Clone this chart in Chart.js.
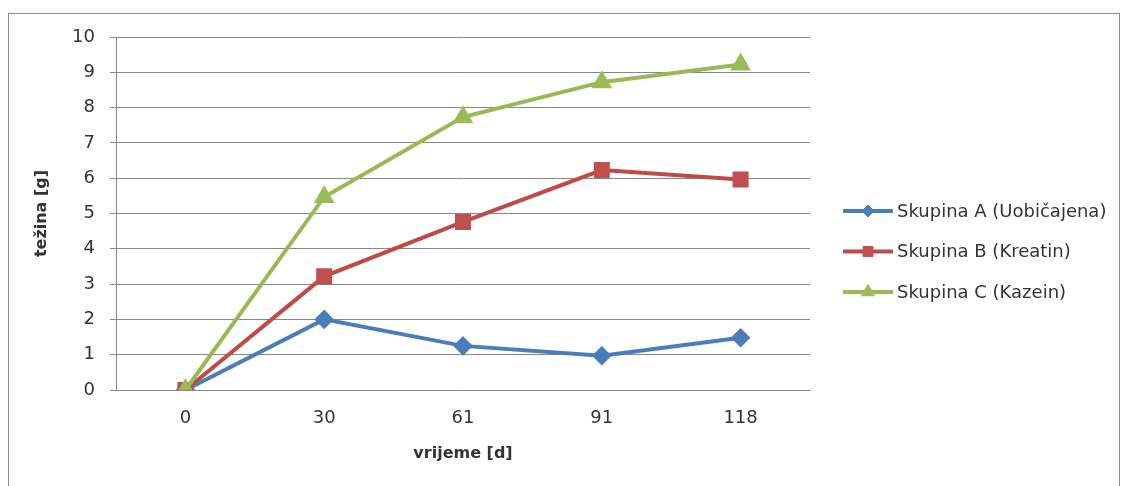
<!DOCTYPE html>
<html><head><meta charset="utf-8">
<script src="https://cdn.jsdelivr.net/npm/chart.js@4.4.1/dist/chart.umd.min.js"></script>
<style>
html,body{margin:0;padding:0;background:#fff;}
#wrap{position:relative;width:1128px;height:486px;overflow:hidden;background:#fff;}
#frame{position:absolute;left:8px;top:13px;width:1112px;height:540px;border:1px solid #8a8a8a;box-sizing:border-box;}
canvas{position:absolute;left:0;top:0;}
</style></head><body>
<div id="wrap"><div id="frame"></div><canvas id="c" width="1128" height="486"></canvas></div>
<script>
const categories = ['0', '30', '61', '91', '118'];
const seriesA = [0, 2.0, 1.25, 0.97, 1.48];
const seriesB = [0, 3.22, 4.76, 6.23, 5.96];
const seriesC = [0, 5.47, 7.73, 8.72, 9.22];
const seriesNames = ['Skupina A (Uobičajena)', 'Skupina B (Kreatin)', 'Skupina C (Kazein)'];
const yTickValues = [0, 1, 2, 3, 4, 5, 6, 7, 8, 9, 10];
const xTitle = 'vrijeme [d]';
const yTitle = 'težina [g]';

const FONT = 'DejaVu Sans';
const gridColor = '#878787';
const textColor = '#333333';

const legendPlugin = {
  id: 'excelLegend',
  afterDraw(chart) {
    const ctx = chart.ctx;
    const rows = [211, 251.5, 292];
    const radii = [6, 7, 7.5];
    ctx.save();
    chart.data.datasets.forEach((ds, i) => {
      const y = rows[i];
      ctx.strokeStyle = ds.borderColor;
      ctx.lineWidth = 4;
      ctx.beginPath();
      ctx.moveTo(843, y);
      ctx.lineTo(893, y);
      ctx.stroke();
      ctx.fillStyle = ds.pointBackgroundColor;
      ctx.strokeStyle = ds.pointBorderColor;
      ctx.lineWidth = 1;
      Chart.helpers.drawPoint(ctx, {pointStyle: ds.pointStyle, radius: radii[i], rotation: 0, borderWidth: 1}, 868, y);
      ctx.fillStyle = textColor;
      ctx.font = '18px "' + FONT + '"';
      ctx.textBaseline = 'middle';
      ctx.textAlign = 'left';
      ctx.fillText(ds.label, 897, y + 1);
    });
    ctx.restore();
  }
};

new Chart(document.getElementById('c'), {
  type: 'line',
  data: {
    labels: categories,
    datasets: [
      {label: seriesNames[0], data: seriesA, borderColor: '#4a7ebb', pointBackgroundColor: '#4a7ebb', pointBorderColor: '#4a7ebb', pointStyle: 'rectRot', pointRadius: 7, borderWidth: 4, order: 3},
      {label: seriesNames[1], data: seriesB, borderColor: '#be4b48', pointBackgroundColor: '#c0504d', pointBorderColor: '#c0504d', pointStyle: 'rect', pointRadius: 8.5, borderWidth: 4, order: 2},
      {label: seriesNames[2], data: seriesC, borderColor: '#98b954', pointBackgroundColor: '#9bbb59', pointBorderColor: '#9bbb59', pointStyle: 'triangle', pointRadius: 8, borderWidth: 4, order: 1}
    ]
  },
  options: {
    responsive: false,
    animation: false,
    devicePixelRatio: 1,
    layout: {padding: {left: 0, top: 37, right: 318, bottom: 0}},
    plugins: {legend: {display: false}, tooltip: {enabled: false}},
    elements: {line: {tension: 0}, point: {borderWidth: 1}},
    scales: {
      x: {
        type: 'category',
        offset: true,
        afterFit(s) { s.height = 96; },
        grid: {display: false, drawTicks: false},
        border: {display: true, color: gridColor, width: 1},
        ticks: {color: textColor, font: {family: FONT, size: 18}, padding: 18, maxRotation: 0},
        title: {display: true, text: xTitle, color: textColor, font: {family: FONT, size: 16, weight: 'bold'}, padding: {top: 0, bottom: 23}}
      },
      y: {
        min: 0, max: 10,
        afterFit(s) { s.width = 116; },
        afterBuildTicks(s) { s.ticks = yTickValues.map(v => ({value: v})); },
        grid: {color: gridColor, lineWidth: 1, tickLength: 6, drawTicks: true},
        border: {display: true, color: gridColor, width: 1},
        ticks: {color: textColor, font: {family: FONT, size: 18}, padding: 15, stepSize: 1},
        title: {display: true, text: yTitle, color: textColor, font: {family: FONT, size: 16, weight: 'bold'}, padding: {top: 32, bottom: 0}}
      }
    }
  },
  plugins: [legendPlugin]
});
</script>
</body></html>
